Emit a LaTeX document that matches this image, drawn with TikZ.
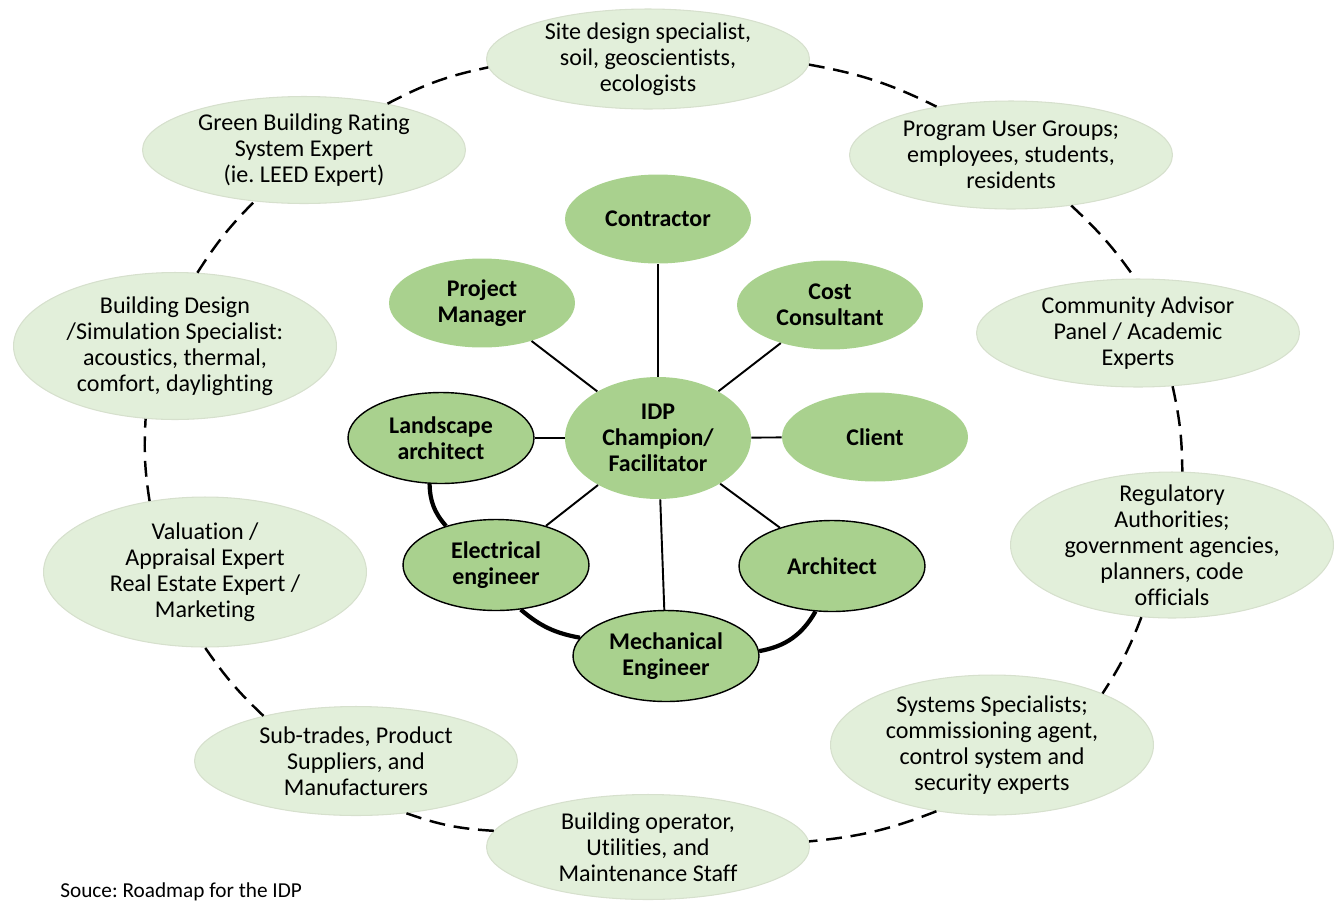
\documentclass[tikz,border=0pt]{standalone}
\usepackage{fontspec}
\setmainfont{Carlito}[Ligatures=NoCommon]
\usepackage{tikz}
\usetikzlibrary{shapes.geometric}
\definecolor{coregreen}{HTML}{A9D18E}
\definecolor{ringgreen}{HTML}{E2EFDA}
\definecolor{ringline}{HTML}{D6E0CD}
\frenchspacing

\begin{document}
\begin{tikzpicture}[x=0.02cm, y=-0.02cm,
    core/.style={ellipse, fill=coregreen, inner sep=0pt, minimum width=3.72cm, minimum height=1.78cm, align=center, font=\fontsize{13.6}{14.8}\selectfont\bfseries},
    team/.style={core, draw=black, line width=0.8pt, minimum height=1.82cm},
    ring/.style={ellipse, fill=ringgreen, draw=ringline, line width=0.6pt, inner xsep=0pt, inner ysep=-4pt, minimum width=6.46cm, align=center, font=\fontsize{13.7}{14.8}\selectfont},
    spoke/.style={line width=1.1pt},
    tie/.style={line width=2.4pt},
    link/.style={line width=1.4pt, dash pattern=on 9pt off 5pt}
]
\useasboundingbox (0,0) rectangle (1342,900);

% core team
\node[core] (contractor) at (658,219) {Contractor};
\node[core] (pm) at (482,303) {Project\\Manager};
\node[core] (cost) at (830,305) {Cost\\Consultant};
\node[core, minimum height=2.44cm] (idp) at (658,438) {IDP\\Champion/\\Facilitator};
\node[core] (client) at (875,437) {Client};
\node[team] (landscape) at (441,438) {Landscape\\architect};
\node[team] (electrical) at (496,565) {Electrical\\engineer};
\node[team] (mechanical) at (666,656) {Mechanical\\Engineer};
\node[team] (architect) at (832,566) {Architect};

\foreach \n in {contractor,pm,cost,client,landscape,electrical,mechanical,architect}
    \draw[spoke] (idp) -- (\n);

\draw[tie] (landscape.256) to[bend right=20] (electrical.142);
\draw[tie] (electrical.299) to[bend right=15] (mechanical.168);
\draw[tie] (architect.250) to[bend left=25] (mechanical.3);

% outer ring
\node[ring, minimum height=2.0cm] (site) at (648,59) {Site design specialist,\\soil, geoscientists,\\ecologists};
\node[ring, minimum height=2.14cm] (green) at (304,150) {Green Building Rating\\System Expert\\(ie. LEED Expert)};
\node[ring, minimum height=2.16cm] (program) at (1011,155) {Program User Groups;\\employees, students,\\residents};
\node[ring, minimum height=2.16cm] (community) at (1138,333) {Community Advisor\\Panel / Academic\\Experts};
\node[ring, minimum height=2.92cm, inner ysep=-8pt] (regulatory) at (1172,545) {Regulatory\\Authorities;\\government agencies,\\planners, code\\officials};
\node[ring, minimum height=2.8cm] (systems) at (992,745) {Systems Specialists;\\commissioning agent,\\control system and\\security experts};
\node[ring, minimum height=2.1cm] (operator) at (648,847) {Building operator,\\Utilities, and\\Maintenance Staff};
\node[ring, minimum height=2.18cm] (subtrades) at (356,761) {Sub-trades, Product\\Suppliers, and\\Manufacturers};
\node[ring, minimum height=3.0cm] (valuation) at (205,572) {Valuation /\\Appraisal Expert\\Real Estate Expert /\\Marketing};
\node[ring, minimum height=2.94cm] (design) at (175,346) {Building Design\\/Simulation Specialist:\\acoustics, thermal,\\comfort, daylighting};

\draw[link] (green.29) to[bend left=8] (site.183);
\draw[link] (site.358) to[bend left=8] (program.147);
\draw[link] (program.320) to[bend left=6] (community.93);
\draw[link] (community.303) to[bend left=6] (regulatory.82);
\draw[link] (regulatory.247) to[bend left=6] (systems.25);
\draw[link] (systems.230) to[bend left=8] (operator.2);
\draw[link] (operator.174) to[bend left=8] (subtrades.314);
\draw[link] (subtrades.154) to[bend left=6] (valuation.270);
\draw[link] (valuation.128) to[bend left=6] (design.248);
\draw[link] (design.73) to[bend left=6] (green.226);

\node[anchor=base west, font=\fontsize{12.1}{14}\selectfont, inner sep=0pt] (source) at (60,897) {Souce: Roadmap for the IDP};
\end{tikzpicture}
\end{document}
